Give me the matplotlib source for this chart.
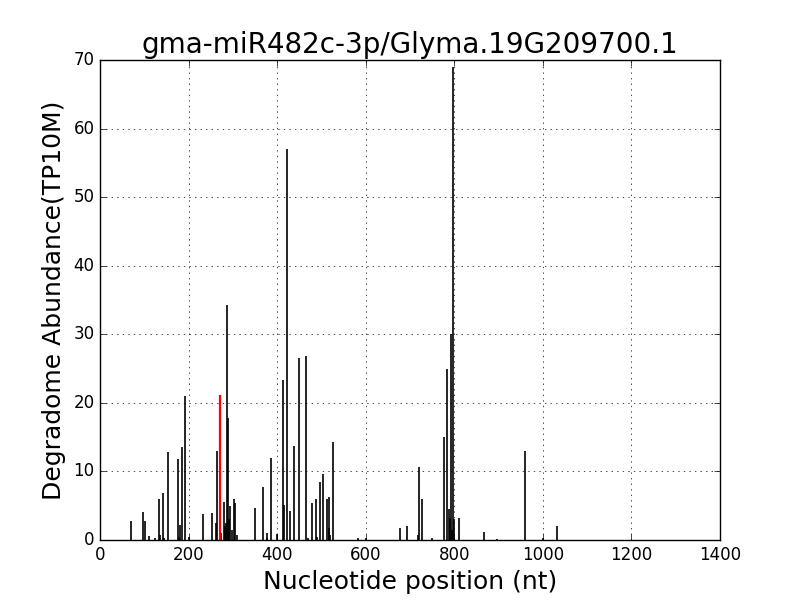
import numpy as np
import matplotlib
matplotlib.use("Agg")
import matplotlib.pyplot as plt

# degradome reads along the transcript (position nt, abundance TP10M)
positions = [69, 97, 102, 110, 125, 134, 136, 143, 145, 153, 175, 179, 181, 186, 193, 202,
             233, 253, 262, 265, 274, 280, 282, 284, 287, 289, 291, 294, 297, 302, 305, 309,
             350, 368, 376, 377, 385, 400, 414, 416, 423, 430, 439, 449, 466, 470, 479, 488,
             490, 497, 504, 513, 516, 518, 520, 526, 583, 600, 678, 694, 719, 721, 728, 750,
             777, 784, 789, 791, 793, 795, 798, 800, 811, 866, 897, 960, 1000, 1033]
abundance = [2.8, 4.1, 2.8, 0.6, 0.3, 6.0, 0.7, 6.9, 0.3, 12.8, 11.8, 0.5, 2.2, 13.6, 21.0, 0.5,
             3.8, 3.9, 2.5, 13.0, 1.0, 5.6, 2.0, 2.5, 34.2, 17.8, 3.0, 5.0, 1.5, 6.0, 5.4, 0.8,
             4.6, 7.7, 0.3, 1.0, 12.0, 0.9, 23.3, 5.1, 57.0, 4.2, 13.7, 26.5, 26.8, 0.3, 5.4, 6.0,
             0.5, 8.4, 9.6, 6.0, 1.8, 6.3, 0.8, 14.3, 0.3, 0.3, 1.7, 2.0, 0.7, 10.6, 6.0, 0.3,
             15.0, 25.0, 4.5, 3.2, 30.0, 1.5, 69.0, 3.0, 3.2, 1.2, 0.2, 13.0, 0.3, 2.0]

# predicted cleavage site
site_pos = 271
site_val = 21.1

plt.style.use('classic')
fig = plt.figure(figsize=(8, 6), dpi=100, facecolor='white')
ax = fig.add_subplot(111)

ax.vlines(positions, 0, abundance, colors='black', linewidth=1.2)
ax.vlines([site_pos], 0, [site_val], colors='red', linewidth=1.6)

ax.set_xlim(0, 1400)
ax.set_ylim(0, 70)
ax.grid(True)
ax.set_title("gma-miR482c-3p/Glyma.19G209700.1", fontsize=20)
ax.set_xlabel("Nucleotide position (nt)", fontsize=18)
ax.set_ylabel("Degradome Abundance(TP10M)", fontsize=18)

fig.savefig("out.png", dpi=100, facecolor='white')
